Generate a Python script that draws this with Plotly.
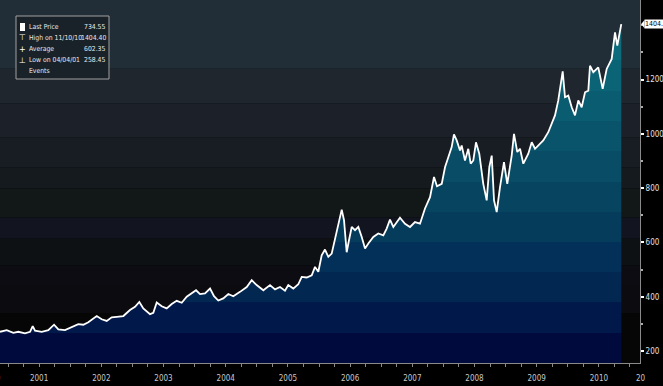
import plotly.graph_objects as go

# ---- data (decimal years, price) ----
years = [2000.871, 2000.979, 2001.085, 2001.166, 2001.273, 2001.354, 2001.397, 2001.434, 2001.542, 2001.648,
         2001.740, 2001.809, 2001.916, 2002.024, 2002.130, 2002.211, 2002.291, 2002.426, 2002.506, 2002.587,
         2002.667, 2002.748, 2002.854, 2002.961, 2003.042, 2003.111, 2003.175, 2003.283, 2003.336, 2003.391,
         2003.471, 2003.551, 2003.632, 2003.712, 2003.793, 2003.873, 2003.953, 2004.023, 2004.087, 2004.167,
         2004.248, 2004.312, 2004.381, 2004.461, 2004.542, 2004.622, 2004.730, 2004.838, 2004.918, 2004.998,
         2005.105, 2005.212, 2005.293, 2005.373, 2005.453, 2005.506, 2005.587, 2005.667, 2005.722, 2005.802,
         2005.883, 2005.936, 2005.989, 2006.043, 2006.096, 2006.150, 2006.204, 2006.257, 2006.310, 2006.365,
         2006.402, 2006.445, 2006.482, 2006.526, 2006.579, 2006.632, 2006.687, 2006.740, 2006.793, 2006.873,
         2006.953, 2007.034, 2007.088, 2007.141, 2007.195, 2007.302, 2007.383, 2007.463, 2007.543, 2007.624,
         2007.704, 2007.785, 2007.849, 2007.897, 2007.973, 2008.026, 2008.079, 2008.133, 2008.170, 2008.214,
         2008.267, 2008.294, 2008.347, 2008.400, 2008.439, 2008.481, 2008.524, 2008.577, 2008.641, 2008.696,
         2008.738, 2008.777, 2008.814, 2008.857, 2008.910, 2008.974, 2009.027, 2009.098, 2009.135, 2009.188,
         2009.232, 2009.285, 2009.365, 2009.420, 2009.473, 2009.553, 2009.606, 2009.686, 2009.741, 2009.794,
         2009.847, 2009.918, 2009.955, 2010.008, 2010.063, 2010.116, 2010.169, 2010.223, 2010.277, 2010.330,
         2010.357, 2010.410, 2010.490, 2010.561, 2010.625, 2010.706, 2010.759, 2010.796, 2010.860]
prices = [271, 277, 267, 271, 265, 271, 292, 275, 271, 277,
          297, 280, 277, 289, 299, 297, 306, 329, 317, 311,
          324, 326, 329, 351, 363, 381, 357, 336, 341, 379,
          365, 357, 373, 385, 378, 400, 412, 424, 410, 412,
          430, 402, 386, 394, 410, 402, 418, 436, 461, 443,
          424, 443, 427, 436, 422, 443, 430, 446, 473, 471,
          479, 510, 492, 553, 574, 547, 559, 615, 669, 721,
          682, 564, 608, 657, 645, 657, 620, 578, 596, 620,
          633, 626, 651, 684, 657, 691, 669, 657, 675, 669,
          725, 767, 841, 807, 816, 877, 914, 951, 998, 976,
          939, 957, 902, 945, 890, 902, 969, 927, 816, 755,
          877, 920, 755, 712, 804, 896, 816, 920, 1000, 933,
          945, 890, 927, 969, 945, 964, 976, 1006, 1037, 1068,
          1123, 1230, 1135, 1141, 1098, 1068, 1123, 1098, 1153, 1159,
          1251, 1227, 1245, 1166, 1239, 1276, 1374, 1325, 1404.4]

year_labels = ["2001", "2002", "2003", "2004", "2005", "2006", "2007", "2008", "2009", "2010"]
year_starts = [2001, 2002, 2003, 2004, 2005, 2006, 2007, 2008, 2009, 2010, 2011]
y_ticks = [200, 400, 600, 800, 1000, 1200]

legend_labels = ["Last Price", "High on 11/10/10", "Average", "Low on 04/04/01", "Events"]
legend_values = ["734.55", "1404.40", "602.35", "258.45", ""]
legend_icons = ["", "\u22a4", "+", "\u22a5", ""]
last_label = "1404.4"

# ---- styling ----
FONT = "Liberation Sans Narrow, DejaVu Sans Condensed, Arial Narrow, DejaVu Sans"
X_RANGE = [2000.871, 2011.161]
Y_RANGE = [156, 1493]
W, H = 663, 386
ML, MR, MT, MB = 0, 23, 0, 23
PW, PH = W - ML - MR, H - MT - MB

# background bands (value bounds, colour) behind the curve
bg_bounds = [156, 340, 443, 516, 615, 693, 799, 876, 987, 1112, 1240, 1493]
bg_colors = ["#060606", "#0c0b0f", "#0c0c12", "#0e1113", "#121420", "#121717",
             "#151a1f", "#181c23", "#1c2129", "#1f262e", "#222e37"]
# fill gradient bands, bottom -> top
fill_colors = ["#000a3c", "#01184a", "#022852", "#033058", "#053c5c", "#064460",
               "#084c66", "#09546a", "#0a5c70", "#0b6476", "#0c6c7c", "#0e7482"]

n = len(fill_colors)
cs = []
for i, c in enumerate(fill_colors):
    cs.append([i / n, c])
    cs.append([(i + 1) / n, c])

fig = go.Figure()

fig.add_trace(go.Scatter(
    x=years, y=prices, mode="lines", line=dict(width=0), fill="tozeroy",
    fillgradient=dict(type="vertical", colorscale=cs, start=Y_RANGE[0], stop=Y_RANGE[1]),
    hoverinfo="skip", showlegend=False, xaxis="x", yaxis="y"))

fig.add_trace(go.Scatter(
    x=years, y=prices, mode="lines", line=dict(color="white", width=1.8),
    showlegend=False, xaxis="x2", yaxis="y"))

shapes = []
for i, c in enumerate(bg_colors):
    shapes.append(dict(type="rect", xref="paper", yref="y", x0=0, x1=1,
                       y0=bg_bounds[i], y1=bg_bounds[i + 1], fillcolor=c,
                       line=dict(width=0), layer="below"))


def px_x(p):
    return p / PW


def px_y(p):
    return 1 - p / PH


# legend box
shapes.append(dict(type="rect", xref="paper", yref="paper", x0=px_x(16), x1=px_x(109),
                   y0=px_y(79), y1=px_y(16), fillcolor="#1a2229",
                   line=dict(color="#a0a0a0", width=1), layer="above"))
shapes.append(dict(type="rect", xref="paper", yref="paper", x0=px_x(20), x1=px_x(25),
                   y0=px_y(31), y1=px_y(23), fillcolor="white",
                   line=dict(width=0), layer="above"))
# last price tag arrow
shapes.append(dict(type="path", xref="paper", yref="y",
                   path=f"M 1.002 {prices[-1]} L 1.007 {prices[-1] + 15} L 1.007 {prices[-1] - 15} Z",
                   fillcolor="white", line=dict(width=0)))

annotations = []
row_y = [27, 38, 49, 60, 71]
for i, lab in enumerate(legend_labels):
    annotations.append(dict(xref="paper", yref="paper", x=px_x(26.5), y=px_y(row_y[i]),
                            text=lab, showarrow=False, xanchor="left", yanchor="middle",
                            font=dict(color="#e8e8e8", size=6.8, family=FONT)))
    if legend_values[i]:
        annotations.append(dict(xref="paper", yref="paper", x=px_x(107.5), y=px_y(row_y[i]),
                                text=legend_values[i], showarrow=False, xanchor="right",
                                yanchor="middle",
                                font=dict(color="#e8e8e8", size=6.8, family=FONT)))
    if legend_icons[i]:
        annotations.append(dict(xref="paper", yref="paper", x=px_x(22.5), y=px_y(row_y[i]),
                                text=legend_icons[i], showarrow=False, xanchor="center",
                                yanchor="middle",
                                font=dict(color="white", size=8, family="DejaVu Sans")))

annotations.append(dict(xref="paper", yref="y", x=1.007, y=prices[-1], text=last_label,
                        showarrow=False, xanchor="left", yanchor="middle", bgcolor="white",
                        borderpad=0, font=dict(color="black", size=7, family=FONT)))
annotations.append(dict(xref="paper", yref="paper", x=px_x(634), y=-15 / PH, text="20",
                        showarrow=False, xanchor="left", yanchor="middle",
                        font=dict(color="#c8c8c8", size=8, family=FONT)))
annotations.append(dict(xref="paper", yref="paper", x=px_x(3), y=-15 / PH, text="2000",
                        showarrow=False, xanchor="right", yanchor="middle",
                        font=dict(color="#c8c8c8", size=8, family=FONT)))

fig.update_layout(
    width=W, height=H, margin=dict(l=ML, r=MR, t=MT, b=MB, pad=0),
    paper_bgcolor="black", plot_bgcolor="black", showlegend=False,
    shapes=shapes, annotations=annotations,
    xaxis=dict(range=X_RANGE, tickmode="array", tickvals=year_starts, ticktext=[""] * len(year_starts),
               ticks="outside", ticklen=23, tickcolor="#8a8a8a", tickwidth=1,
               showline=True, linecolor="#8a8a8a", linewidth=1, showgrid=False, zeroline=False,
               showticklabels=False,
               minor=dict(dtick=0.25, tick0=2001, ticks="outside", ticklen=3, tickcolor="#8a8a8a",
                          showgrid=False)),
    xaxis2=dict(range=X_RANGE, overlaying="x", anchor="y", side="bottom", tickmode="array",
                tickvals=[y + 0.5 for y in year_starts[:-1]], ticktext=year_labels,
                ticks="outside", ticklen=7, tickcolor="rgba(0,0,0,0)",
                showline=False, showgrid=False, zeroline=False,
                tickfont=dict(color="#c8c8c8", size=8, family=FONT)),
    yaxis=dict(range=Y_RANGE, side="right", tickmode="array", tickvals=y_ticks,
               ticks="outside", ticklen=3, tickcolor="white", tickwidth=2,
               showline=True, linecolor="#8a8a8a", linewidth=1, showgrid=False, zeroline=False,
               tickfont=dict(color="#e0e0e0", size=8, family=FONT),
               minor=dict(dtick=100, tick0=0, ticks="outside", ticklen=2, tickcolor="#aaaaaa",
                          showgrid=False)),
)

fig.write_html("out.html", config={"displayModeBar": False},
               post_script="document.body.style.margin='0';document.body.style.overflow='hidden';")
